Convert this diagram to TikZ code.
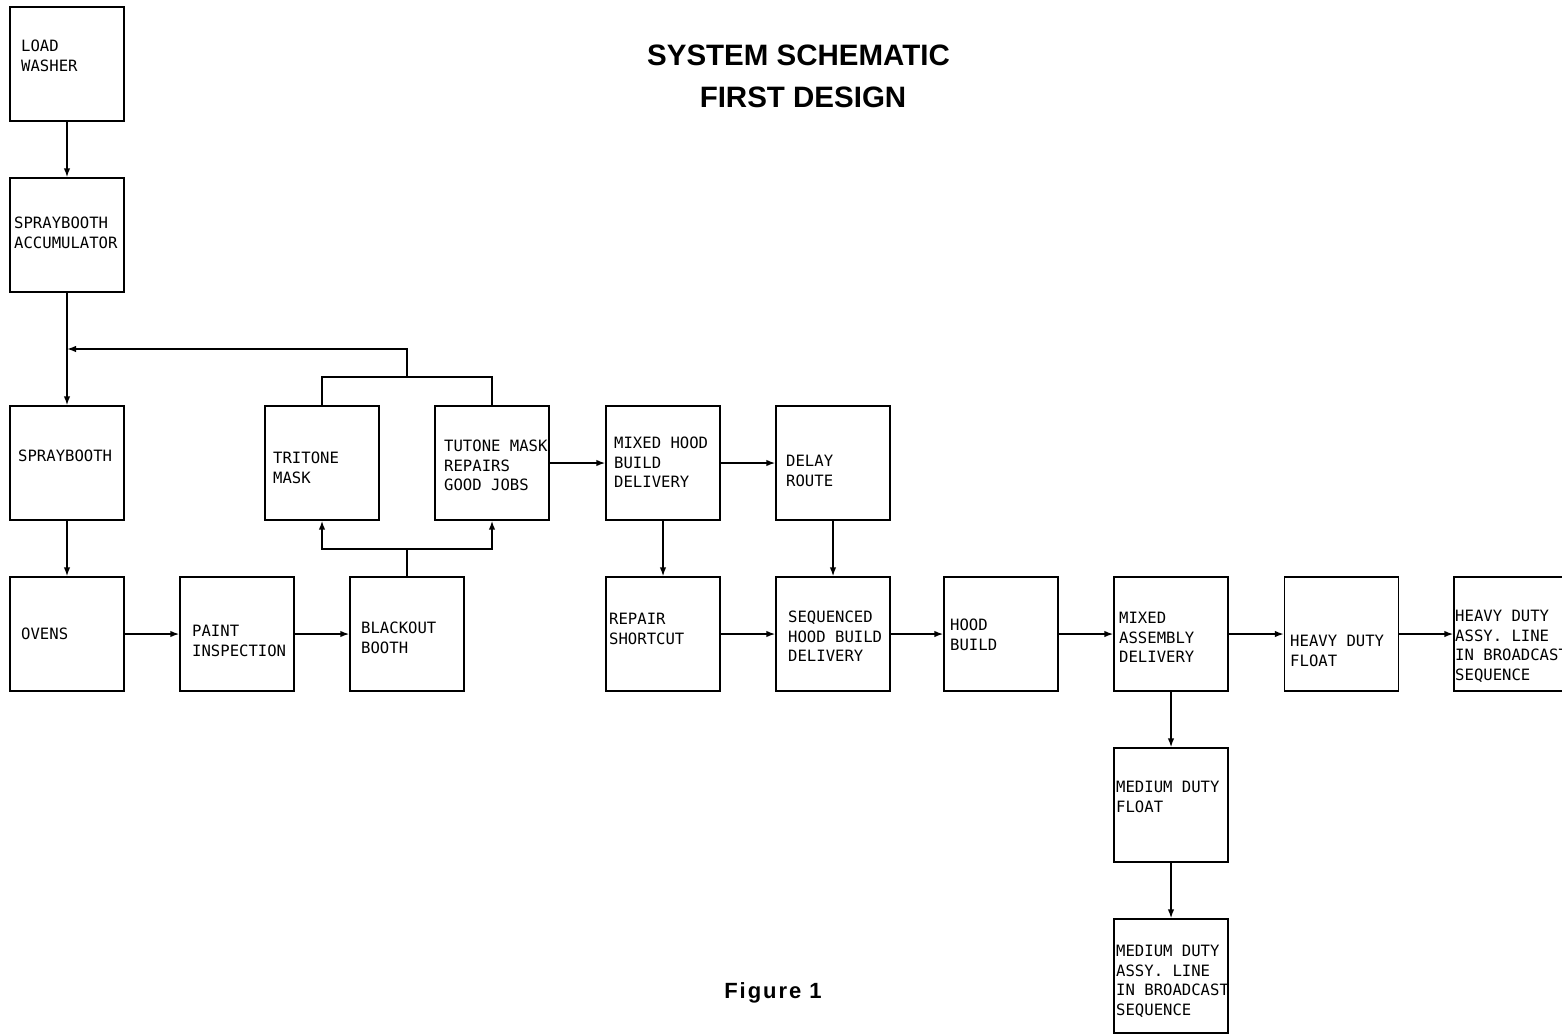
\documentclass[tikz,border=0pt]{standalone}
\usepackage{fontspec}
\setmainfont{Liberation Sans}
\newfontfamily\boxfont{DejaVu Sans Mono}
\usetikzlibrary{arrows.meta}
\begin{document}
\begin{tikzpicture}[x=1pt,y=-1pt,
  box/.style={draw,line width=1.4pt,minimum width=114pt,minimum height=114pt,inner sep=0pt},
  lbl/.style={anchor=north west,inner sep=0pt,align=left,font=\boxfont\fontsize{15.6}{19.5}\selectfont},
  conn/.style={line width=1.5pt},
  arr/.style={conn,-{Latex[length=9pt,width=6.5pt]}},
  ttl/.style={font=\bfseries\fontsize{29.5}{35}\selectfont,inner sep=0pt}]
\useasboundingbox (0,0) rectangle (1562,1034);
% title
\node[ttl] (t1) at (798.5,55) {SYSTEM SCHEMATIC};
\node[ttl] (t2) at (803,97) {FIRST DESIGN};
\node[font=\bfseries\fontsize{22}{26}\selectfont\addfontfeature{LetterSpace=9},inner sep=0pt] (fig) at (773,993) {Figure 1};
% boxes
\node[box] (lw)  at (67,64) {};
\node[box] (acc) at (67,235) {};
\node[box] (sb)  at (67,463) {};
\node[box] (ov)  at (67,634) {};
\node[box] (pi)  at (237,634) {};
\node[box] (bb)  at (407,634) {};
\node[box] (tri) at (322,463) {};
\node[box] (tut) at (492,463) {};
\node[box] (mhb) at (663,463) {};
\node[box] (dr)  at (833,463) {};
\node[box] (rs)  at (663,634) {};
\node[box] (shb) at (833,634) {};
\node[box] (hb)  at (1001,634) {};
\node[box] (mad) at (1171,634) {};
\node[box] (hdf) at (1341.5,634) {};
\node[box] (hda) at (1511,634) {};
\node[box] (mdf) at (1171,805) {};
\node[box] (mda) at (1171,976) {};
% labels
\node[lbl] (l1)  at (21,40) {LOAD\\WASHER};
\node[lbl] (l2)  at (14,217) {SPRAYBOOTH\\ACCUMULATOR};
\node[lbl] (l3)  at (18,450) {SPRAYBOOTH};
\node[lbl] (l4)  at (21,628) {OVENS};
\node[lbl] (l5)  at (192,625) {PAINT\\INSPECTION};
\node[lbl] (l6)  at (361,622) {BLACKOUT\\BOOTH};
\node[lbl] (l7)  at (273,452) {TRITONE\\MASK};
\node[lbl] (l8)  at (444,440) {TUTONE MASK\\REPAIRS\\GOOD JOBS};
\node[lbl] (l9)  at (614,437) {MIXED HOOD\\BUILD\\DELIVERY};
\node[lbl] (l10) at (786,455) {DELAY\\ROUTE};
\node[lbl] (l11) at (609,613) {REPAIR\\SHORTCUT};
\node[lbl] (l12) at (788,611) {SEQUENCED\\HOOD BUILD\\DELIVERY};
\node[lbl] (l13) at (950,619) {HOOD\\BUILD};
\node[lbl] (l14) at (1119,612) {MIXED\\ASSEMBLY\\DELIVERY};
\node[lbl] (l15) at (1290,635) {HEAVY DUTY\\FLOAT};
\node[lbl] (l16) at (1455,610) {HEAVY DUTY\\ASSY. LINE\\IN BROADCAST\\SEQUENCE};
\node[lbl] (l17) at (1116,781) {MEDIUM DUTY\\FLOAT};
\node[lbl] (l18) at (1116,945) {MEDIUM DUTY\\ASSY. LINE\\IN BROADCAST\\SEQUENCE};
% junction coordinates
\coordinate (j)    at (67,349);
\coordinate (ret)  at (407,349);
\coordinate (tmid) at (407,377);
\coordinate (bmid) at (407,549);
% connectors
\draw[arr] (lw.south) -- (acc.north);
\draw[arr] (acc.south) -- (sb.north);
\draw[arr] (sb.south) -- (ov.north);
\draw[arr] (ov.east) -- (pi.west);
\draw[arr] (pi.east) -- (bb.west);
\draw[conn] (tri.north) |- (tmid) -| (tut.north);
\draw[arr] (tmid) -- (ret) -- (j);
\draw[conn] (bb.north) -- (bmid);
\draw[arr] (bmid) -| (tri.south);
\draw[arr] (bmid) -| (tut.south);
\draw[arr] (tut.east) -- (mhb.west);
\draw[arr] (mhb.east) -- (dr.west);
\draw[arr] (mhb.south) -- (rs.north);
\draw[arr] (dr.south) -- (shb.north);
\draw[arr] (rs.east) -- (shb.west);
\draw[arr] (shb.east) -- (hb.west);
\draw[arr] (hb.east) -- (mad.west);
\draw[arr] (mad.east) -- (hdf.west);
\draw[arr] (hdf.east) -- (hda.west);
\draw[arr] (mad.south) -- (mdf.north);
\draw[arr] (mdf.south) -- (mda.north);
\end{tikzpicture}
\end{document}
